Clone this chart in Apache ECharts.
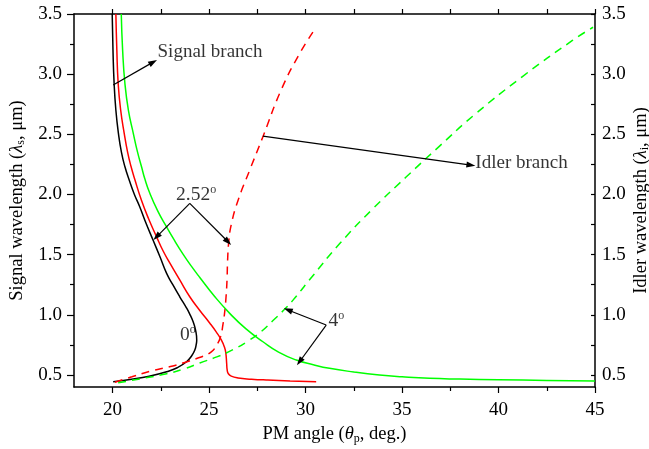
<!DOCTYPE html>
<html lang="en">
<head>
    <meta charset="UTF-8">
    <title>PM angle tuning</title>
    <script src="https://cdn.jsdelivr.net/npm/echarts@6/dist/echarts.min.js"></script>
    <style>
        body {margin: 0; background: #fff;}
    </style>
</head>
<body>
<div id="chart" style="width: 649px;height: 449px"></div>
<script>
    // curves: [PM angle (deg), wavelength (um)]
    var signal0 = [
        [20.03, 0.444], [21.07, 0.466], [21.9, 0.49], [22.8, 0.527], [23.35, 0.56],
        [23.83, 0.61], [24.1, 0.66], [24.26, 0.707], [24.33, 0.75], [24.36, 0.79],
        [24.3, 0.873], [24.18, 0.94], [23.98, 1.012], [23.82, 1.06], [23.48, 1.15],
        [23.12, 1.25], [22.8, 1.344], [22.46, 1.48], [22.1, 1.62], [21.76, 1.75],
        [21.4, 1.9], [21.13, 2.0], [20.86, 2.12], [20.64, 2.23], [20.46, 2.35],
        [20.3, 2.51], [20.17, 2.7], [20.08, 2.92], [20.02, 3.2], [19.98, 3.5]
    ];
    var signal252 = [
        [20.17, 3.5], [20.22, 3.2], [20.29, 2.92], [20.42, 2.7], [20.6, 2.51],
        [20.78, 2.35], [20.96, 2.23], [21.16, 2.12], [21.5, 1.95], [21.86, 1.8],
        [22.28, 1.648], [22.62, 1.53], [22.97, 1.43], [23.48, 1.29], [24.0, 1.15],
        [24.5, 1.04], [25.04, 0.93], [25.36, 0.86], [25.64, 0.79], [25.8, 0.73],
        [25.87, 0.68], [25.91, 0.6], [25.94, 0.54], [26.0, 0.51], [26.15, 0.49],
        [26.5, 0.475], [27.2, 0.465], [27.97, 0.458], [29.2, 0.45], [30.55, 0.444]
    ];
    var idler252 = [
        [20.12, 0.44], [21.0, 0.485], [21.93, 0.53], [23.0, 0.57], [23.65, 0.6],
        [24.5, 0.645], [25.1, 0.69], [25.4, 0.75], [25.6, 0.82], [25.72, 0.92],
        [25.8, 1.01], [25.88, 1.15], [25.93, 1.29], [25.96, 1.45], [26.02, 1.607],
        [26.15, 1.75], [26.5, 1.95], [27.1, 2.2], [27.79, 2.48], [28.74, 2.87],
        [29.69, 3.17], [30.55, 3.39]
    ];
    var signal4 = [
        [20.45, 3.5], [20.52, 3.2], [20.64, 2.92], [20.82, 2.7], [21.07, 2.51],
        [21.28, 2.36], [21.5, 2.23], [21.67, 2.13], [21.93, 2.01], [22.35, 1.86],
        [22.8, 1.73], [23.2, 1.62], [23.65, 1.505], [24.1, 1.4], [24.52, 1.31],
        [25.3, 1.15], [26.07, 1.012], [26.9, 0.885], [27.79, 0.776], [28.6, 0.69],
        [29.52, 0.624], [30.4, 0.585], [31.24, 0.555], [32.5, 0.525], [33.83, 0.5],
        [35, 0.485], [36.42, 0.472], [38, 0.466], [40, 0.461], [42.5, 0.455], [45, 0.45]
    ];
    var idler4 = [
        [20.29, 0.435], [21.5, 0.47], [22.8, 0.51], [23.7, 0.55], [24.52, 0.6],
        [25.4, 0.65], [26.24, 0.71], [27.0, 0.78], [27.7, 0.86], [28.3, 0.95],
        [29.0, 1.06], [29.43, 1.137], [30.38, 1.325], [31.76, 1.59], [33.48, 1.88],
        [35.21, 2.145], [36.93, 2.4], [38.66, 2.65], [41.24, 2.98], [43.83, 3.28],
        [44.9, 3.39]
    ];

    var xMajor = [20, 25, 30, 35, 40, 45];
    var xMinor = [22.5, 27.5, 32.5, 37.5, 42.5];
    var yMajor = [0.5, 1.0, 1.5, 2.0, 2.5, 3.0, 3.5];
    var yMinor = [0.75, 1.25, 1.75, 2.25, 2.75, 3.25];

    // annotations: text at [x, y], arrows as [x0, y0, x1, y1]
    var notes = [
        {value: [22.33, 3.185], text: 'Signal branch', pos: 'right'},
        {value: [38.8, 2.26], text: 'Idler branch', pos: 'right'},
        {value: [24.33, 1.995], text: '{t|2.52}{d|o}', pos: 'inside'},
        {value: [23.9, 0.832], text: '{t|0}{d|o}', pos: 'inside'},
        {value: [31.6, 0.948], text: '{t|4}{d|o}', pos: 'inside'}
    ];
    var arrows = [
        [20.03, 2.91, 22.1, 3.1],
        [27.79, 2.485, 38.57, 2.244],
        [24.0, 1.926, 22.28, 1.648],
        [24.0, 1.926, 25.98, 1.607],
        [31.07, 0.915, 29.09, 1.04],
        [31.07, 0.915, 29.69, 0.61]
    ];

    var serif = 'Liberation Serif';
    var axisCol = '#000';

    function showChart(option, elStr) {
        var chart = echarts.init(document.getElementById(elStr));
        chart.setOption(option);
    }

    function curve(name, data, color, dashed) {
        return {
            name: name,
            type: 'line',
            data: data,
            showSymbol: false,
            smooth: 0.5,
            clip: true,
            lineStyle: {color: color, width: 1.5, type: dashed ? [8, 6] : 'solid'},
            z: 3
        };
    }

    var nameRich = {
        n: {fontFamily: serif, fontSize: 18.5, color: '#000', lineHeight: 20},
        i: {fontFamily: serif, fontSize: 18.5, fontStyle: 'italic', color: '#000', lineHeight: 20},
        s: {fontFamily: serif, fontSize: 12, color: '#000', lineHeight: 10, verticalAlign: 'bottom'}
    };
    var tickLabel = {fontFamily: serif, fontSize: 19, color: '#000'};

    var option = {
        backgroundColor: '#fff',
        animation: false,
        grid: {left: 74, right: 54, top: 14, bottom: 62, outerBoundsMode: 'none', containLabel: false},
        xAxis: [
            {
                type: 'value', min: 18, max: 45, position: 'bottom',
                name: '{n|PM angle (}{i|θ}{s|p}{n|, deg.)}',
                nameLocation: 'middle', nameGap: 35,
                nameTextStyle: {rich: nameRich},
                axisLine: {show: true, lineStyle: {color: axisCol, width: 1.5}},
                axisTick: {show: true, length: 6, customValues: xMajor, lineStyle: {color: axisCol, width: 1.2}},
                axisLabel: {customValues: xMajor, margin: 14, textStyle: tickLabel},
                splitLine: {show: false}
            },
            {
                type: 'value', min: 18, max: 45, position: 'bottom',
                axisLine: {show: false},
                axisTick: {show: true, length: 4, customValues: xMinor, lineStyle: {color: axisCol, width: 1.2}},
                axisLabel: {show: false},
                splitLine: {show: false}
            },
            {
                type: 'value', min: 18, max: 45, position: 'top',
                axisLine: {show: true, lineStyle: {color: axisCol, width: 1.5}},
                axisTick: {show: true, length: 5, customValues: xMajor.concat(xMinor), lineStyle: {color: axisCol, width: 1.2}},
                axisLabel: {show: false},
                splitLine: {show: false}
            }
        ],
        yAxis: [
            {
                type: 'value', min: 0.4, max: 3.5, position: 'left',
                name: '{n|Signal wavelength (}{i|λ}{s|s}{n|, μm)}',
                nameLocation: 'middle', nameGap: 47, nameRotate: 90,
                nameTextStyle: {rich: nameRich},
                axisLine: {show: true, lineStyle: {color: axisCol, width: 1.5}},
                axisTick: {show: true, length: 7, customValues: yMajor, lineStyle: {color: axisCol, width: 1.2}},
                axisLabel: {customValues: yMajor, margin: 12, textStyle: tickLabel,
                    formatter: function (v) { return v.toFixed(1); }},
                splitLine: {show: false}
            },
            {
                type: 'value', min: 0.4, max: 3.5, position: 'left',
                axisLine: {show: false},
                axisTick: {show: true, length: 4, customValues: yMinor, lineStyle: {color: axisCol, width: 1.2}},
                axisLabel: {show: false},
                splitLine: {show: false}
            },
            {
                type: 'value', min: 0.4, max: 3.5, position: 'right',
                name: '{n|Idler wavelength (}{i|λ}{s|i}{n|, μm)}',
                nameLocation: 'middle', nameGap: 36, nameRotate: 90, nameMoveOverlap: false,
                nameTextStyle: {rich: nameRich},
                axisLine: {show: true, lineStyle: {color: axisCol, width: 1.5}},
                axisTick: {show: true, inside: true, length: 4, customValues: yMajor.concat(yMinor), lineStyle: {color: axisCol, width: 1.2}},
                axisLabel: {customValues: yMajor, margin: 7, textStyle: tickLabel,
                    formatter: function (v) { return v.toFixed(1); }},
                splitLine: {show: false}
            }
        ],
        series: [
            curve('0 deg signal', signal0, '#000000', false),
            curve('2.52 deg signal', signal252, '#ff0000', false),
            curve('2.52 deg idler', idler252, '#ff0000', true),
            curve('4 deg signal', signal4, '#00ff00', false),
            curve('4 deg idler', idler4, '#00ff00', true),
            {
                name: 'notes',
                type: 'scatter',
                symbolSize: 0,
                silent: true,
                z: 5,
                data: notes.map(function (n) {
                    return {
                        value: n.value,
                        label: {show: true, position: n.pos, distance: 0, formatter: n.text}
                    };
                }),
                label: {
                    color: '#000', fontFamily: serif, fontSize: 19,
                    rich: {
                        t: {fontFamily: serif, fontSize: 19.5, color: '#000', lineHeight: 22},
                        d: {fontFamily: serif, fontSize: 12, color: '#000', lineHeight: 11, verticalAlign: 'top'}
                    }
                },
                markLine: {
                    silent: true,
                    animation: false,
                    symbol: ['none', 'triangle'],
                    symbolSize: [6, 9],
                    label: {show: false},
                    lineStyle: {color: '#000', width: 1.2, type: 'solid'},
                    emphasis: {disabled: true},
                    data: arrows.map(function (a) {
                        return [{coord: [a[0], a[1]]}, {coord: [a[2], a[3]]}];
                    })
                }
            }
        ]
    };
    showChart(option, 'chart');
</script>
</body>
</html>
